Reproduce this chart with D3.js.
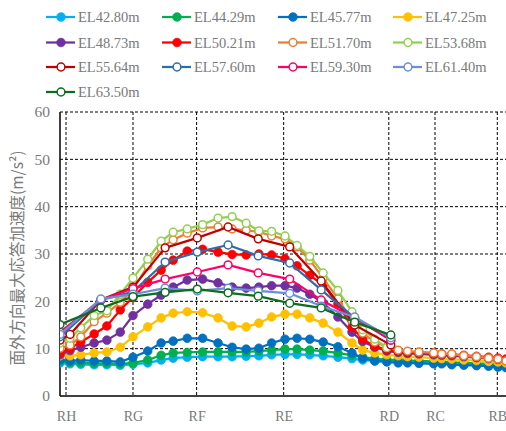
<!DOCTYPE html>
<html><head><meta charset="utf-8">
<script src="https://cdn.jsdelivr.net/npm/d3@7"></script>
<style>html,body{margin:0;padding:0;background:#fff;overflow:hidden}</style>
</head><body><svg id="c" width="506" height="431"></svg>
<script>
// ---- data ----
const categories = ["RH","RG","RF","RE","RD","RC","RB"];
const categoryPos = [0, 10.0, 19.5, 32.5, 48.2, 55.1, 64.4];
const yTicks = [0,10,20,30,40,50,60];
const xDense = [-0.9,0.6,2.2,4.2,6.1,8.1,10.0,12.2,14.2,16.0,18.1,20.4,22.7,24.8,26.9,28.8,30.7,32.7,34.5,36.4,38.4,40.6,42.7,44.3,46.1,47.9,49.6,51.0,52.7,54.9,56.1,57.6,59.4,61.3,63.1,64.5,65.7];
const xSparse = [-0.9,5.2,10.0,14.8,19.6,24.2,28.7,33.4,38.1,43.1,48.5];
const xSparse2 = [-0.9,0.6,5.2,10.0,14.8,19.6,24.2,28.7,33.4,38.1,43.1,48.5];
const el4280 = [7.0,6.8,6.7,6.6,6.6,6.5,6.7,7.0,7.6,8.0,8.2,8.3,8.3,8.3,8.4,8.5,8.7,8.8,8.8,8.7,8.5,8.2,7.9,7.6,7.4,7.3,7.3,7.2,7.1,7.0,6.9,6.8,6.7,6.6,6.4,6.3,6.2];
const el4429 = [7.3,7.1,7.0,6.9,6.9,6.8,7.0,7.6,8.6,9.1,9.2,9.3,9.3,9.3,9.3,9.5,9.7,9.9,9.9,9.7,9.5,9.1,8.6,8.2,7.9,7.7,7.6,7.5,7.4,7.3,7.2,7.1,7.0,6.9,6.8,6.6,6.5];
const el4577 = [7.6,7.4,7.6,7.4,7.4,7.2,8.2,9.5,11.2,11.6,12.2,12.2,11.2,10.3,9.9,10.1,11.2,12.0,12.2,12.0,11.4,10.4,9.1,8.0,7.4,7.2,7.0,7.0,6.9,6.8,6.8,6.6,6.5,6.4,6.3,6.1,6.0];
const el4725 = [8.5,8.5,8.7,9.1,9.3,10.3,12.5,14.6,16.5,17.5,17.8,17.6,16.5,14.8,14.6,15.4,16.7,17.3,17.3,16.5,15.4,13.5,11.2,9.7,9.1,8.7,8.5,8.3,8.2,8.0,7.9,7.8,7.6,7.5,7.3,7.2,7.0];
const el4873 = [8.7,9.6,10.3,11.2,11.8,13.5,17.0,19.4,21.3,23.0,24.5,24.7,23.9,23.0,22.8,23.0,23.3,23.3,22.8,21.5,19.7,16.7,13.5,11.5,10.3,9.5,9.2,9.0,8.9,8.7,8.6,8.5,8.3,8.1,7.9,7.7,7.5];
const el5021 = [9.1,10.1,11.4,13.1,14.8,18.2,20.8,24.0,26.6,28.7,30.6,31.0,30.4,29.9,29.8,30.0,29.8,29.0,27.5,25.5,23.5,19.5,14.5,12.0,10.5,9.8,9.5,9.3,9.2,9.0,8.9,8.8,8.6,8.4,8.2,8.0,7.8];
const el5170 = [10.1,10.8,12.5,15.7,17.5,19.8,22.5,27.5,31.3,33.0,34.4,35.5,35.7,35.3,35.0,34.7,33.8,33.2,31.5,28.7,24.9,20.5,16.0,13.3,11.4,10.4,9.7,9.5,9.3,9.1,8.9,8.9,8.5,8.3,8.0,7.8,7.4];
const el5368 = [11.2,12.2,14.4,17.0,18.0,21.5,24.9,28.9,32.7,34.6,35.3,36.2,37.6,37.9,36.5,34.9,34.8,33.8,31.8,29.5,26.0,22.3,17.8,14.0,12.0,10.2];
const el5564 = [11.8,13.0,20.3,23.0,31.3,33.4,35.7,33.2,31.5,24.3,15.0,10.8];
const el5760 = [12.5,20.3,22.0,28.3,30.4,31.9,29.6,28.1,22.4,16.5,11.8];
const el5930 = [13.5,20.3,22.7,24.7,26.2,27.7,26.0,24.7,20.3,16.5,11.8];
const el6140 = [13.0,20.5,21.5,22.8,22.2,22.8,22.2,21.7,19.0,16.7,12.3];
const el6350 = [15.1,18.6,21.0,21.9,22.6,21.8,21.1,19.6,18.6,15.6,12.9];
const seriesNames = ["EL42.80m","EL44.29m","EL45.77m","EL47.25m","EL48.73m","EL50.21m","EL51.70m","EL53.68m","EL55.64m","EL57.60m","EL59.30m","EL61.40m","EL63.50m"];
const seriesColors = ["#00B0F0","#00B050","#0070C0","#FFC000","#7030A0","#FF0000","#ED7D31","#92D050","#C00000","#2E6DA8","#FF0066","#6A8FD8","#0A6E1E"];
const seriesFilled = [true,true,true,true,true,true,false,false,false,false,false,false,false];
const seriesValues = [el4280,el4429,el4577,el4725,el4873,el5021,el5170,el5368,el5564,el5760,el5930,el6140,el6350];
const seriesX = [xDense,xDense,xDense,xDense,xDense,xDense,xDense,xDense,xSparse2,xSparse,xSparse,xSparse,xSparse];
const yTitle = "面外方向最大応答加速度(m/s²)";

// ---- chart ----
(function () {
const svg = d3.select("#c");
const mLeft = 60, mBottom = 396, mTop = 112, mRight = 506;
const x = d3.scaleLinear().domain([-0.9, 65.7]).range([mLeft, mRight]);
const y = d3.scaleLinear().domain([0, 60]).range([mBottom, mTop]);
const textCol = "#7a7a7a";
const serif = "'Liberation Serif','DejaVu Serif',serif";

svg.append("defs").append("clipPath").attr("id","clip").append("rect")
  .attr("x", mLeft).attr("y", mTop - 8).attr("width", mRight - mLeft + 10).attr("height", mBottom - mTop + 16);

// grid
const grid = svg.append("g");
grid.selectAll("line.h").data(yTicks.filter(d => d > 0)).join("line").attr("class","h")
  .attr("x1", mLeft).attr("x2", mRight).attr("y1", d => y(d)).attr("y2", d => y(d))
  .attr("stroke", "#000").attr("stroke-width", 1).attr("stroke-dasharray", "3,2");
grid.selectAll("line.v").data(categoryPos).join("line").attr("class","v")
  .attr("x1", d => x(d)).attr("x2", d => x(d)).attr("y1", mTop).attr("y2", mBottom)
  .attr("stroke", "#000").attr("stroke-width", 1).attr("stroke-dasharray", "3,2");

// axes
const yAxis = svg.append("g").attr("transform", `translate(${mLeft},0)`)
  .call(d3.axisLeft(y).tickValues(yTicks).tickSize(0).tickPadding(10).tickFormat(d3.format("d")));
yAxis.select(".domain").remove();
yAxis.selectAll("text").attr("font-family", serif).attr("font-size", 15.5).attr("fill", textCol);

const xAxis = svg.append("g").attr("transform", `translate(0,${mBottom})`)
  .call(d3.axisBottom(x).tickValues(categoryPos).tickSize(0).tickPadding(15)
    .tickFormat((d, i) => categories[i]));
xAxis.select(".domain").remove();
xAxis.selectAll("text").attr("font-family", serif).attr("font-size", 14).attr("fill", textCol);

svg.append("line").attr("x1", mLeft).attr("x2", mLeft).attr("y1", mTop).attr("y2", mBottom)
  .attr("stroke", "#000").attr("stroke-width", 1.5);
svg.append("line").attr("x1", mLeft).attr("x2", mRight).attr("y1", mBottom).attr("y2", mBottom)
  .attr("stroke", "#000").attr("stroke-width", 1.5);

// y title
svg.append("text")
  .attr("transform", `translate(23,${(mTop + mBottom) / 2 + 4}) rotate(-90)`)
  .attr("text-anchor", "middle")
  .attr("font-family", "'Noto Sans CJK JP',sans-serif").attr("font-size", 15.5)
  .attr("fill", textCol).text(yTitle);

// series
const plot = svg.append("g").attr("clip-path", "url(#clip)");
const line = d3.line().x(d => x(d[0])).y(d => y(d[1]));
seriesNames.forEach((name, i) => {
  const pts = seriesValues[i].map((v, j) => [seriesX[i][j], v]);
  const g = plot.append("g");
  g.append("path").datum(pts).attr("d", line).attr("fill", "none")
    .attr("stroke", seriesColors[i]).attr("stroke-width", 2.25).attr("stroke-linejoin", "round");
  g.selectAll("circle").data(pts).join("circle")
    .attr("cx", d => x(d[0])).attr("cy", d => y(d[1]))
    .attr("r", seriesFilled[i] ? 4.3 : 3.9)
    .attr("fill", seriesFilled[i] ? seriesColors[i] : "#fff")
    .attr("stroke", seriesColors[i]).attr("stroke-width", seriesFilled[i] ? 0.8 : 1.5);
});

// legend
const legend = svg.append("g");
const colX = [46, 162, 278, 393];
const rowY = [17, 42.5, 67, 92];
seriesNames.forEach((name, i) => {
  const cx = colX[i % 4], cy = rowY[Math.floor(i / 4)];
  const g = legend.append("g").attr("transform", `translate(${cx},${cy})`);
  g.append("line").attr("x1", 0).attr("x2", 29).attr("y1", 0).attr("y2", 0)
    .attr("stroke", seriesColors[i]).attr("stroke-width", 2.25);
  g.append("circle").attr("cx", 15).attr("cy", 0).attr("r", seriesFilled[i] ? 4.3 : 3.9)
    .attr("fill", seriesFilled[i] ? seriesColors[i] : "#fff")
    .attr("stroke", seriesColors[i]).attr("stroke-width", seriesFilled[i] ? 0.8 : 1.5);
  g.append("text").attr("x", 32).attr("y", 5).attr("font-family", serif).attr("font-size", 14.5)
    .attr("fill", textCol).text(name);
});
})();
</script></body></html>
